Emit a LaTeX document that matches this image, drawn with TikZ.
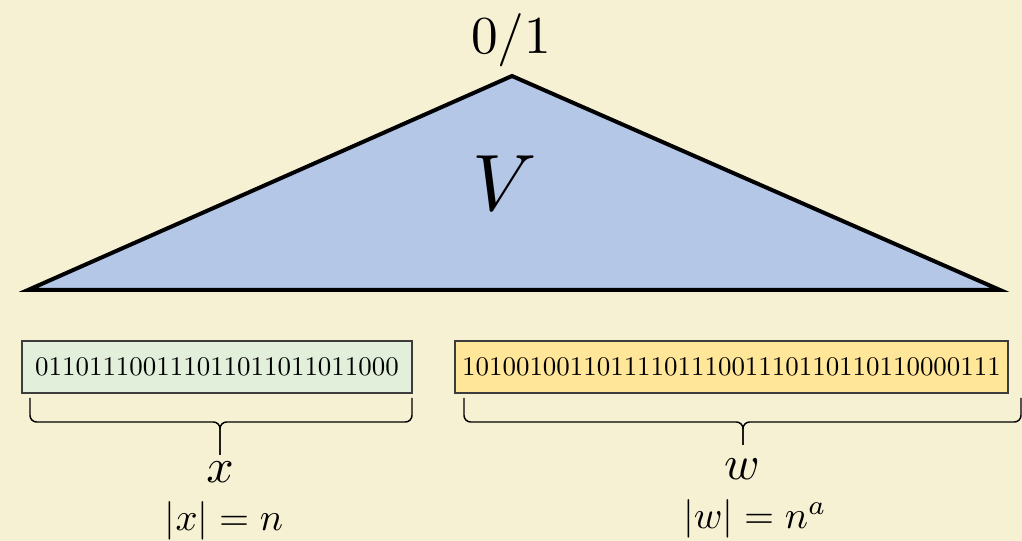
\documentclass[tikz,border=0pt]{standalone}
\definecolor{bg}{RGB}{247,241,212}
\definecolor{tri}{RGB}{180,199,231}
\definecolor{gbox}{RGB}{226,239,218}
\definecolor{ybox}{RGB}{255,230,153}
\definecolor{bord}{RGB}{60,60,60}
\newcommand{\bits}[1]{\scalebox{2.02}{#1}}
\tikzset{
  bitbox/.style={draw=bord, line width=1.1pt, inner sep=0pt, minimum height=39pt},
  bracepath/.style={draw=black, line width=1.1pt, rounded corners=5pt},
  biglab/.style={scale=3.6, inner sep=0pt},
  sizelab/.style={scale=2.9, inner sep=0pt}
}
\begin{document}
\begin{tikzpicture}[x=0.75pt,y=-0.75pt]
\fill[bg] (0,0) rectangle (1022,541);
\useasboundingbox (0,0) rectangle (1022,541);
% triangle
\coordinate (apex) at (512,76);
\coordinate (bl) at (28,290);
\coordinate (br) at (1000,290);
\filldraw[fill=tri, draw=black, line width=3pt] (apex) -- (br) -- (bl) -- cycle;
\node[scale=4, inner sep=0pt] (out) at (511,40) {$0/1$};
\node[scale=6, inner sep=0pt] (V) at (505,183) {$V$};
% boxes
\node[bitbox, fill=gbox, minimum width=292.5pt] (xbox) at (217,367) {\bits{011011100111011011011011000}};
\node[bitbox, fill=ybox, minimum width=414.75pt] (wbox) at (731.5,367) {\bits{1010010011011110111001110110110110000111}};
% braces
\coordinate (xl) at (30,398);
\coordinate (xr) at (412,398);
\coordinate (xm) at (220,422);
\coordinate (xt) at (220,455);
\draw[bracepath] (xl) |- (xm) -- (xt);
\draw[bracepath] (xr) |- (xm) -- (xt);
\coordinate (wl) at (464,398);
\coordinate (wr) at (1021,398);
\coordinate (wm) at (743,422);
\coordinate (wt) at (743,445);
\draw[bracepath] (wl) |- (wm) -- (wt);
\draw[bracepath] (wr) |- (wm) -- (wt);
% labels
\node[biglab] (x) at (220,472) {$x$};
\node[sizelab] (xs) at (224,521) {$|x| = n$};
\node[biglab] (w) at (742,469) {$w$};
\node[sizelab] (ws) at (755,519) {$|w| = n^a$};
\end{tikzpicture}
\end{document}
